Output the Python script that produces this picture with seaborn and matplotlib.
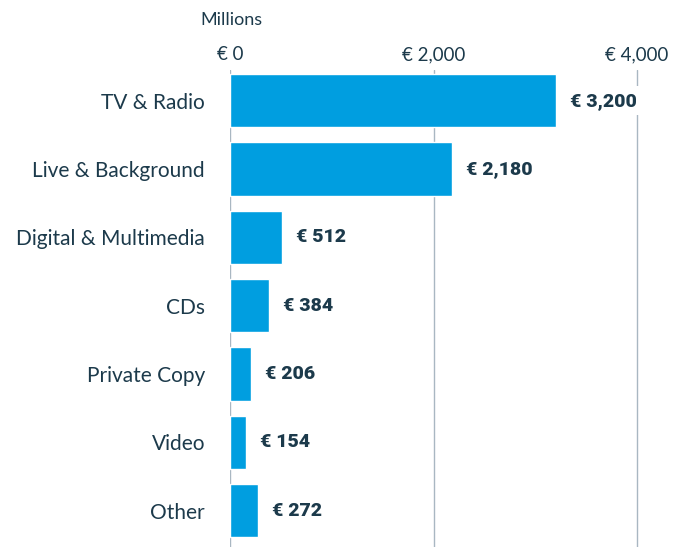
import matplotlib
matplotlib.use("Agg")
import matplotlib.pyplot as plt
import seaborn as sns
import pandas as pd

categories = ["TV & Radio", "Live & Background", "Digital & Multimedia", "CDs",
              "Private Copy", "Video", "Other"]
values = [3200, 2180, 512, 384, 206, 154, 272]
xticks = [0, 2000, 4000]
xtick_labels = ["€ 0", "€ 2,000", "€ 4,000"]

sns.set_theme(style="white")
plt.rcParams['font.family'] = ['Lato', 'DejaVu Sans']

TEXT = "#1c3a4b"
BAR = "#009ee0"
GRID = "#a9b7c2"

df = pd.DataFrame({"category": categories, "value": values})

W, H = 673, 547
fig = plt.figure(figsize=(W / 100, H / 100), dpi=100)
ax = fig.add_axes([230 / W, 0, (W - 230) / W, (H - 70) / H])

sns.barplot(data=df, x="value", y="category", orient="h", color=BAR,
            saturation=1, width=0.78, ax=ax, zorder=2)

ax.set_xlim(0, 2000 * (W - 230) / 203.5)
ax.set_ylim(6.53, -0.45)
ax.xaxis.tick_top()
ax.set_xticks(xticks)
ax.set_xticklabels(xtick_labels, fontsize=13.5, color=TEXT)
ax.tick_params(axis="x", length=0, pad=5)
ax.tick_params(axis="y", length=0, pad=18, labelsize=15, labelcolor=TEXT)
ax.set_xlabel("")
ax.set_ylabel("")
for s in ax.spines.values():
    s.set_visible(False)
for xt in xticks:
    ax.axvline(xt, color=GRID, lw=1, zorder=1)

for i, v in enumerate(values):
    ax.text(v + 140, i, f"€ {v:,}", va="center", ha="left", fontsize=14,
            fontweight="black", color=TEXT, family=["Roboto", "DejaVu Sans"],
            zorder=3,
            bbox=dict(facecolor="white", edgecolor="none", pad=4))

fig.text(200 / W, 1 - 20 / H, "Millions", fontsize=13, color=TEXT,
         ha="left", va="center")

fig.savefig("out.png", dpi=100)
